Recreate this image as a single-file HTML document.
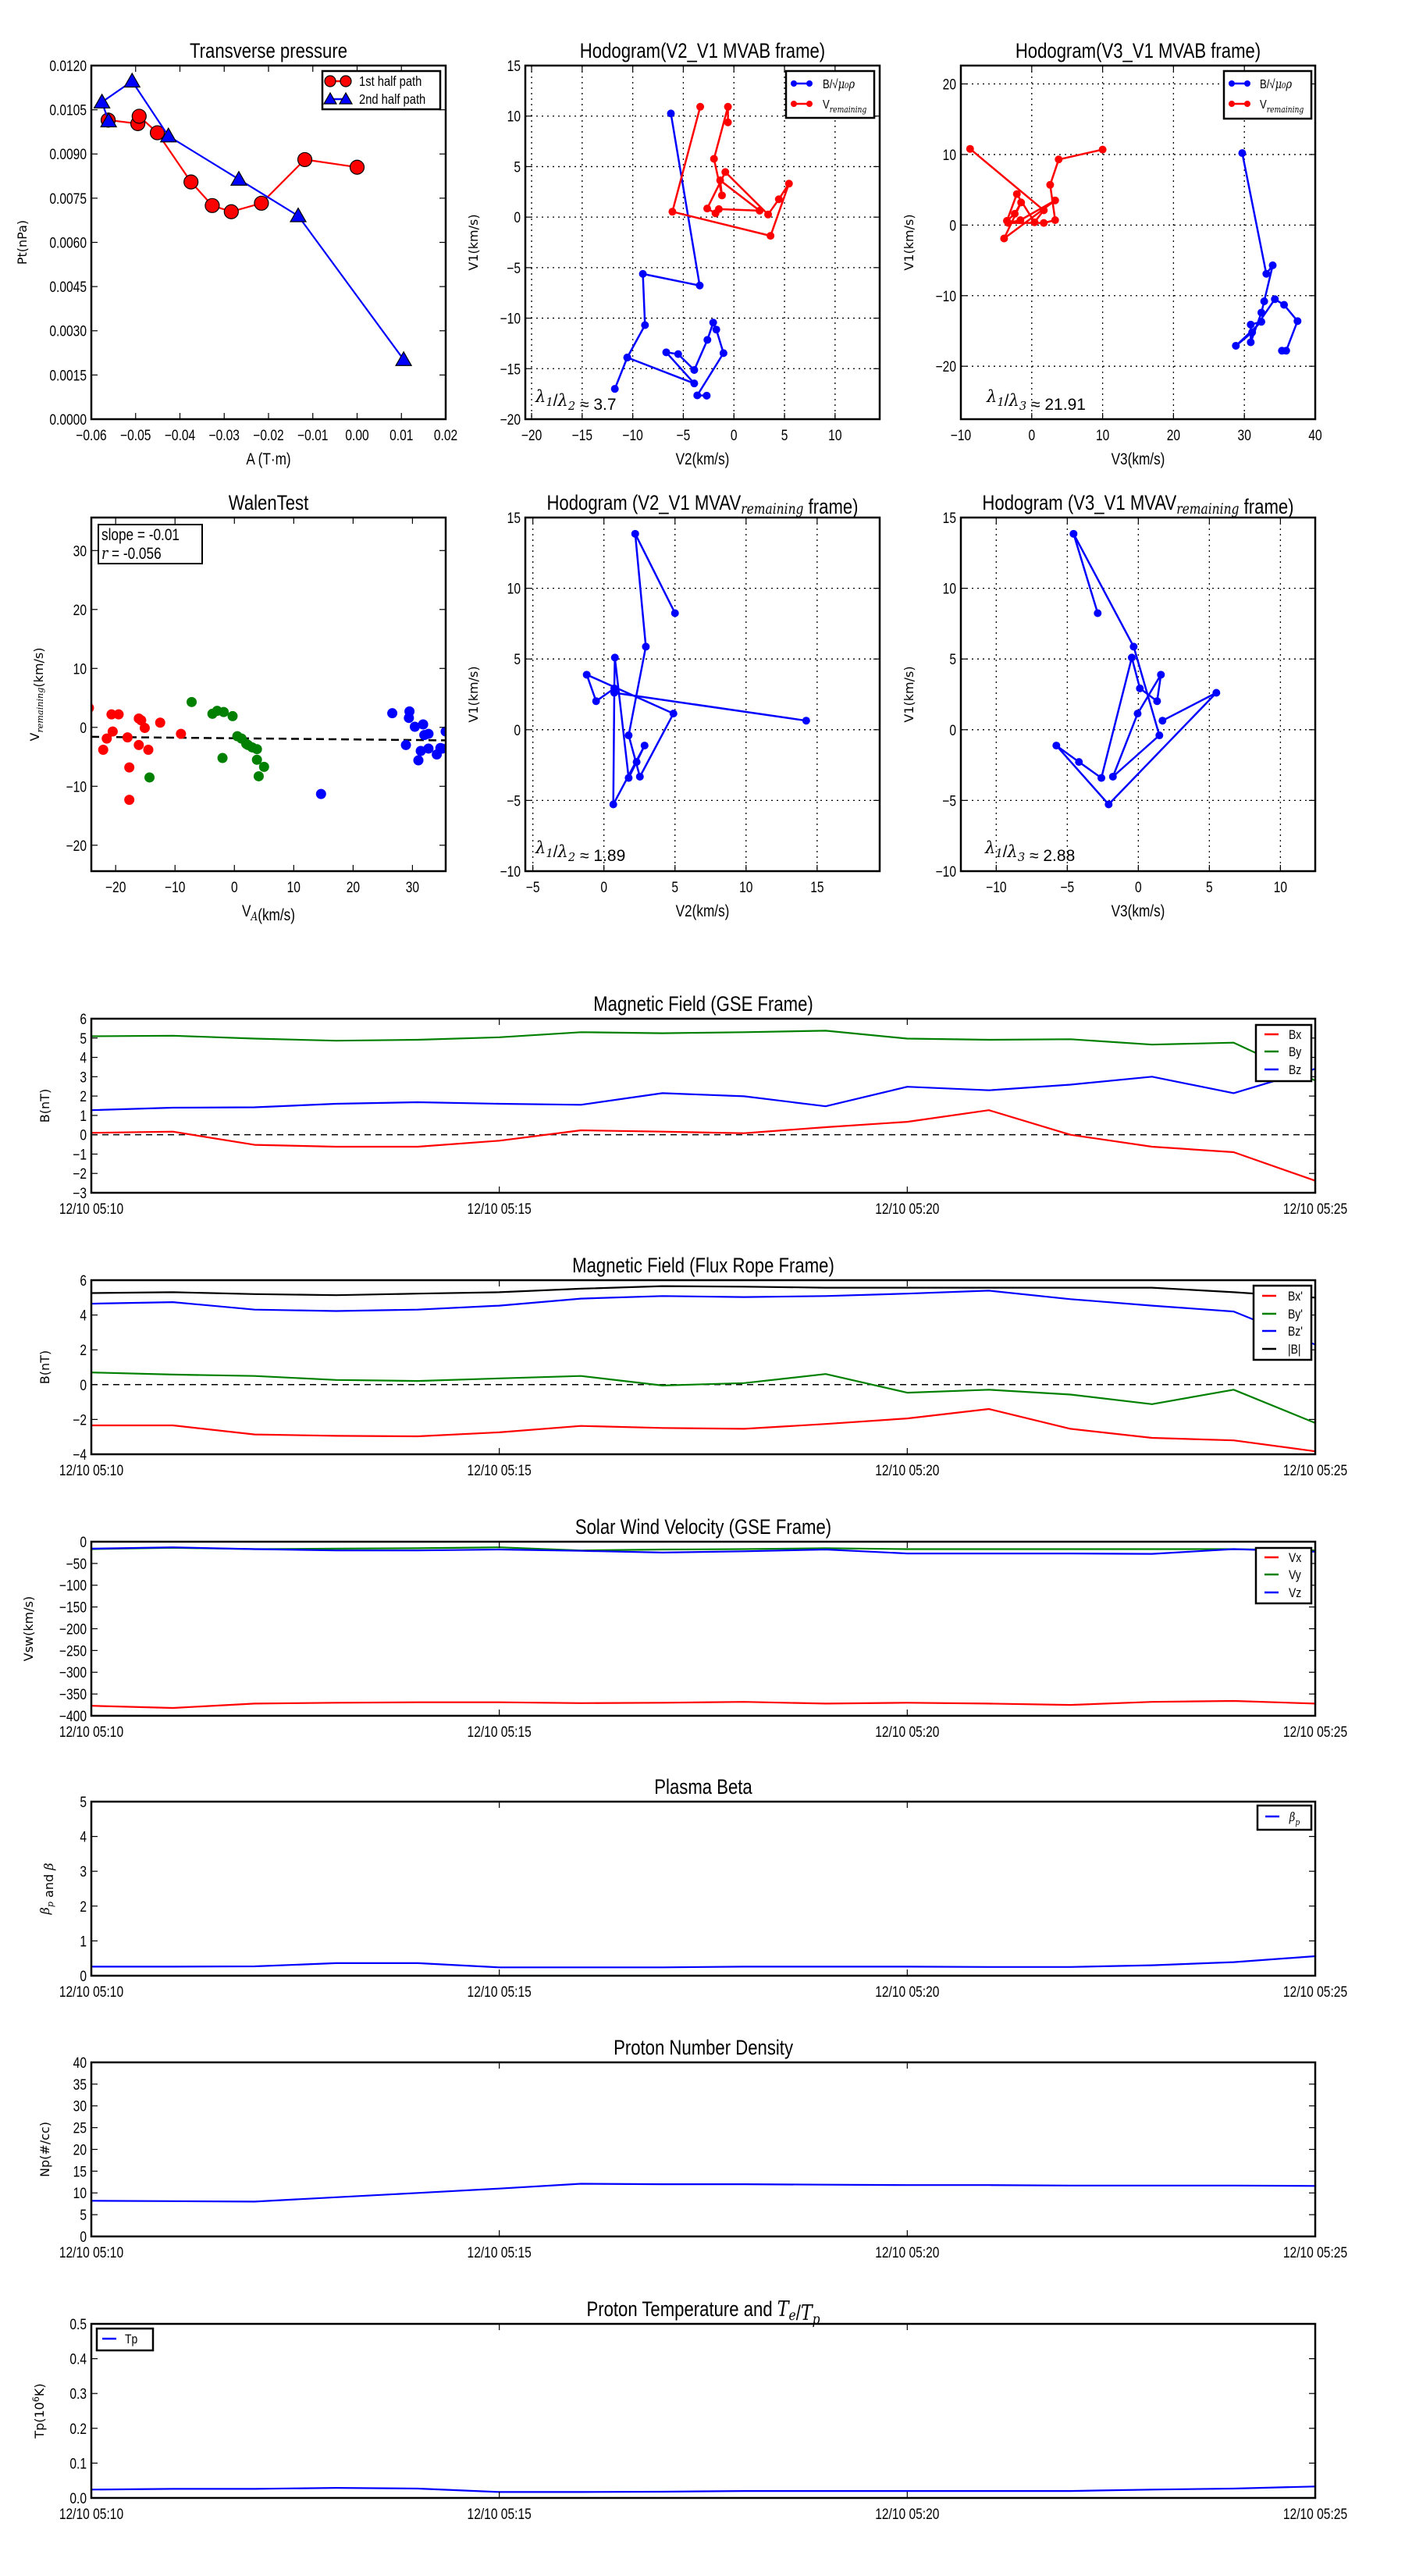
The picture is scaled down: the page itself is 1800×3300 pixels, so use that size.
<!DOCTYPE html>
<html><head><meta charset="utf-8"><title>Flux rope analysis</title>
<style>
html,body{margin:0;padding:0;background:#fff;}
svg{display:block;}
text{font-family:"Liberation Sans Narrow","Liberation Sans",sans-serif;}
.lab{font-family:"DejaVu Sans","Liberation Sans",sans-serif;}
.mth{font-family:"DejaVu Serif","Liberation Serif",serif;font-style:italic;}
.nc{transform-box:fill-box;transform-origin:center;transform:scaleX(0.82);}
.nr{transform-box:fill-box;transform-origin:right center;transform:scaleX(0.82);}
.nl{transform-box:fill-box;transform-origin:left center;transform:scaleX(0.82);}
</style></head>
<body>
<svg id="fig" xmlns="http://www.w3.org/2000/svg" width="1800" height="3300" viewBox="0 0 1800 3300">
<rect x="0" y="0" width="1800" height="3300" fill="#fff"/>
</svg>
<script>
// ---------- data ----------
const ptRedA=[-0.0562,-0.0495,-0.0492,-0.0451,-0.0375,-0.0327,-0.0284,-0.0216,-0.0118,0.0000];
const ptRedP=[0.01015,0.01003,0.01028,0.00972,0.00805,0.00725,0.00704,0.00733,0.00881,0.00855];
const ptBlueA=[-0.0561,-0.0576,-0.0508,-0.0426,-0.0267,-0.0133,0.0105];
const ptBlueP=[0.01012,0.01076,0.01147,0.00961,0.00814,0.00690,0.00202];

const b2V2=[-6.23,-3.38,-9.0,-8.79,-10.54,-11.77,-10.54,-3.92,-6.69,-5.51,-3.92,-2.62,-2.05,-1.74,-1.03,-3.62,-2.69];
const b2V1=[10.26,-6.77,-5.62,-10.69,-13.9,-17.0,-13.9,-16.46,-13.38,-13.56,-15.13,-12.15,-10.44,-11.13,-13.46,-17.64,-17.67];
const r2V2=[-3.33,-6.08,3.62,5.44,4.44,3.38,-0.85,-2.64,-1.82,-1.49,2.54,-1.36,-1.18,-1.97,-0.59,-0.59];
const r2V1=[10.92,0.54,-1.85,3.31,1.77,0.26,4.46,0.85,0.38,0.79,0.64,3.64,2.15,5.77,10.92,9.38];

const b3V3=[29.7,33.1,34.0,32.8,32.4,30.9,30.9,32.4,28.8,31.1,34.3,35.6,37.5,35.9,35.3];
const b3V1=[10.2,-6.9,-5.7,-10.8,-12.4,-16.6,-14.1,-13.7,-17.1,-15.2,-10.5,-11.3,-13.6,-17.8,-17.8];
const r3V3=[-8.7,1.7,0.4,-2.1,-3.5,-2.4,-1.5,-3.9,3.3,-1.6,-3.3,1.7,3.3,2.6,3.8,10.0];
const r3V1=[10.8,2.1,0.4,4.4,0.6,1.6,3.2,-1.9,3.5,0.7,0.3,0.3,0.7,5.7,9.3,10.7];

const walRedVA=[-24.5,-22.1,-21.5,-20.5,-20.7,-19.5,-18.0,-17.7,-17.7,-16.1,-15.7,-16.1,-15.1,-14.5,-12.5,-9.0];
const walRedVr=[3.3,-3.8,-1.9,-0.7,2.2,2.2,-1.7,-6.8,-12.3,1.5,1.2,-3.0,-0.1,-3.8,0.8,-1.1];
const walGreenVA=[-7.2,-3.7,-2.9,-1.8,-2.0,-0.3,0.5,1.2,2.0,2.3,3.0,3.8,3.8,4.1,5.0,-14.3];
const walGreenVr=[4.3,2.3,2.8,2.6,-5.2,1.9,-1.5,-1.9,-2.8,-3.0,-3.4,-3.7,-5.5,-8.3,-6.7,-8.5];
const walBlueVA=[14.6,26.6,29.5,29.4,28.9,30.4,31.0,31.4,31.8,32.0,32.7,32.7,34.1,34.7,35.6,35.0];
const walBlueVr=[-11.3,2.4,2.7,1.6,-3.0,0.1,-5.6,-4.0,0.5,-1.3,-1.1,-3.6,-4.6,-3.5,-0.7,-3.6];
const walSlope=-0.01, walIntercept=-1.85;

const mvavV1=[8.24,13.85,5.87,-0.40,-3.32,1.14,3.89,2.02,2.92,5.10,-3.41,-2.28,-1.12,-5.28,2.61,0.64];
const mvavV2=[5.0,2.2,2.95,1.74,2.53,4.89,-1.21,-0.55,0.73,0.77,1.74,2.3,2.86,0.66,0.73,14.23];
const mvavV3=[-2.86,-4.56,-0.33,1.48,-1.79,-0.05,1.59,1.32,0.11,-0.46,-2.60,-4.18,-5.77,-2.09,5.49,1.70];

const tMin=[0,1,2,3,4,5,6,7,8,9,10,11,12,13,14,15];
const timeTickVals=[0,5,10,15];
const timeTickLabels=["12/10 05:10","12/10 05:15","12/10 05:20","12/10 05:25"];
const gseBx=[0.10,0.16,-0.52,-0.62,-0.62,-0.31,0.23,0.16,0.08,0.39,0.67,1.27,0.0,-0.62,-0.9,-2.38];
const gseBy=[5.09,5.12,4.97,4.86,4.91,5.04,5.30,5.25,5.30,5.38,4.97,4.91,4.94,4.66,4.76,2.8];
const gseBz=[1.27,1.40,1.42,1.60,1.68,1.60,1.55,2.15,1.99,1.47,2.48,2.30,2.59,3.0,2.15,3.41];
const frBx=[-2.34,-2.34,-2.86,-2.94,-2.97,-2.74,-2.37,-2.49,-2.54,-2.26,-1.94,-1.40,-2.54,-3.06,-3.20,-3.83];
const frBy=[0.70,0.58,0.50,0.27,0.21,0.36,0.50,-0.05,0.09,0.61,-0.46,-0.29,-0.57,-1.12,-0.29,-2.2];
const frBz=[4.65,4.74,4.31,4.23,4.31,4.54,4.94,5.09,5.03,5.09,5.23,5.40,4.91,4.54,4.2,2.3];
const frBt=[5.26,5.31,5.2,5.14,5.23,5.31,5.51,5.66,5.63,5.57,5.57,5.57,5.57,5.57,5.31,5.0];
const vx=[-377,-382,-372,-370,-369,-369,-371,-370,-368,-372,-370,-372,-375,-368,-366,-372];
const vy=[-17,-14,-17,-16,-15,-13,-20,-18,-17,-15,-17,-17,-17,-17,-17,-20];
const vz=[-16,-13,-17,-20,-20,-18,-21,-25,-22,-18,-27,-27,-27,-28,-17,-23];
const betaP=[0.26,0.26,0.27,0.36,0.36,0.24,0.24,0.24,0.26,0.26,0.26,0.25,0.25,0.30,0.39,0.56];
const densNp=[8.2,8.1,8.0,9.0,10.0,11.0,12.1,12.0,12.0,11.9,11.8,11.8,11.7,11.7,11.7,11.6];
const tempTp=[0.024,0.026,0.026,0.029,0.027,0.017,0.017,0.018,0.020,0.020,0.020,0.020,0.020,0.024,0.027,0.033];

// ---------- helpers ----------
const NS='http://www.w3.org/2000/svg';
const fig=document.getElementById('fig');
function mk(tag,attrs,parent){const e=document.createElementNS(NS,tag);for(const k in attrs)e.setAttribute(k,attrs[k]);(parent||fig).appendChild(e);return e;}
function fmtMinus(s){return String(s).replace('-','\u2212');}
function range(a,b,s){const r=[];for(let v=a;v<=b+1e-9;v+=s)r.push(+v.toFixed(6));return r;}
let clipId=0;
function axes(o){
  const g=mk('g',{});
  
  
  const sx=v=>o.x+(v-o.xmin)/(o.xmax-o.xmin)*o.w;
  const sy=v=>o.y+o.h-(v-o.ymin)/(o.ymax-o.ymin)*o.h;
  const cid='clip'+(clipId++);
  const cp=mk('clipPath',{id:cid},g);mk('rect',{x:o.x,y:o.y,width:o.w,height:o.h},cp);
  if(o.grid){
    const gg=mk('g',{stroke:'#000','stroke-width':1.3,'stroke-dasharray':'2,5'},g);
    
    
    o.xticks.forEach(v=>{const X=sx(v);if(X>o.x+1&&X<o.x+o.w-1)mk('line',{x1:X,x2:X,y1:o.y,y2:o.y+o.h},gg);});
    o.yticks.forEach(v=>{const Y=sy(v);if(Y>o.y+1&&Y<o.y+o.h-1)mk('line',{y1:Y,y2:Y,x1:o.x,x2:o.x+o.w},gg);});
  }
  const data=mk('g',{'clip-path':'url(#'+cid+')'},g);
  
  
  const fr=mk('g',{},g);
  mk('rect',{x:o.x,y:o.y,width:o.w,height:o.h,fill:'none',stroke:'#000','stroke-width':2.5},fr);
  const tl=8;
  o.xticks.forEach((v,i)=>{const X=sx(v);
    mk('line',{x1:X,x2:X,y1:o.y+o.h,y2:o.y+o.h-tl,stroke:'#000','stroke-width':1.2},fr);
    mk('line',{x1:X,x2:X,y1:o.y,y2:o.y+tl,stroke:'#000','stroke-width':1.2},fr);
    const t=mk('text',{x:X,y:o.y+o.h+27,'text-anchor':'middle','font-size':o.xfs||19,'class':'nc'},fr);
    t.textContent=o.xlabels?o.xlabels[i]:fmtMinus(o.xfmt?o.xfmt(v):v);
    
    
  });
  o.yticks.forEach(v=>{const Y=sy(v);
    mk('line',{y1:Y,y2:Y,x1:o.x,x2:o.x+tl,stroke:'#000','stroke-width':1.2},fr);
    mk('line',{y1:Y,y2:Y,x1:o.x+o.w,x2:o.x+o.w-tl,stroke:'#000','stroke-width':1.2},fr);
    const t=mk('text',{x:o.x-6,y:Y+7,'text-anchor':'end','font-size':19,'class':'nr'},fr);
    t.textContent=fmtMinus(o.yfmt?o.yfmt(v):v);
    
    
  });
  const tt=mk('text',{x:o.x+o.w/2,y:o.y-10,'text-anchor':'middle','font-size':27,'class':'nc'},fr);
  tt.innerHTML=o.title;
  
  
  if(o.xlabel){const t=mk('text',{x:o.x+o.w/2,y:o.y+o.h+58,'text-anchor':'middle','font-size':21,'class':'nc'},fr);t.innerHTML=o.xlabel;
    
    }
  if(o.ylabel){const cy=o.y+o.h/2;const t=mk('text',{x:o.ylx,y:cy,'text-anchor':'middle','font-size':16,'class':'lab',transform:'rotate(-90 '+o.ylx+' '+cy+')'},fr);t.innerHTML=o.ylabel;
    
    }
  return {sx,sy,data,fr,o};
}
function polyline(ax,xs,ys,color,w,name){
  const pts=xs.map((v,i)=>ax.sx(v).toFixed(1)+','+ax.sy(ys[i]).toFixed(1)).join(' ');
  const p=mk('polyline',{points:pts,fill:'none',stroke:color,'stroke-width':w||2.2,'stroke-linejoin':'round'},ax.data);
  
  
  return p;
}
function dots(ax,xs,ys,color,r,name,stroke){
  const g=mk('g',{},ax.data);
  
  
  xs.forEach((v,i)=>{const c=mk('circle',{cx:ax.sx(v),cy:ax.sy(ys[i]),r:r,fill:color},g);
    if(stroke){c.setAttribute('stroke','#000');c.setAttribute('stroke-width',1.2);}
    
    });
}
function tris(ax,xs,ys,color,s,name){
  const g=mk('g',{},ax.data);
  
  
  xs.forEach((v,i)=>{const X=ax.sx(v),Y=ax.sy(ys[i]);
    const p=mk('polygon',{points:`${X},${Y-s} ${X-s},${Y+s*0.75} ${X+s},${Y+s*0.75}`,fill:color,stroke:'#000','stroke-width':1.2},g);
    
    });
}
function legend(x,y,w,h,entries,name){
  const g=mk('g',{});
  
  
  mk('rect',{x:x,y:y,width:w,height:h,fill:'#fff',stroke:'#000','stroke-width':2.5},g);
  entries.forEach(e=>{
    mk('line',{x1:e.lx1,x2:e.lx2,y1:e.y,y2:e.y,stroke:e.color,'stroke-width':2.5},g);
    if(e.marker==='o'){[e.lx1,e.lx2].forEach(X=>mk('circle',{cx:X,cy:e.y,r:e.r||5,fill:e.color,stroke:e.stroke?'#000':'none','stroke-width':1.2},g));}
    if(e.marker==='^'){[e.lx1,e.lx2].forEach(X=>{const s=e.r;mk('polygon',{points:`${X},${e.y-s} ${X-s},${e.y+s*0.75} ${X+s},${e.y+s*0.75}`,fill:e.color,stroke:'#000','stroke-width':1.2},g);});}
    const t=mk('text',{x:e.tx,y:e.y+6,'font-size':e.fs||17,'class':'nl'},g);t.innerHTML=e.text;
    
    
  });
}
function note(x,y,html,fs,name){const t=mk('text',{x:x,y:y,'font-size':fs||22},fig);t.innerHTML=html;
  
  return t;}
const M=(s)=>'<tspan class="mth">'+s+'</tspan>';
const SUB=(s)=>'<tspan class="mth" font-size="70%" dy="5">'+s+'</tspan><tspan dy="-5"></tspan>';

// ---------- Row 1 ----------
const a1=axes({name:'transverse-pressure-chart',x:117,y:84,w:454,h:453,xmin:-0.06,xmax:0.02,ymin:0,ymax:0.012,
  xticks:range(-0.06,0.02,0.01),yticks:range(0,0.012,0.0015),xfmt:v=>v.toFixed(2),yfmt:v=>v.toFixed(4),
  title:'Transverse pressure',xlabel:'A (T·m)',ylabel:'Pt(nPa)',ylx:34});
polyline(a1,ptRedA,ptRedP,'#ff0000',2.2,'first-half-path-line');
dots(a1,ptRedA,ptRedP,'#ff0000',9,'first-half-path-markers',true);
polyline(a1,ptBlueA,ptBlueP,'#0000ff',2.2,'second-half-path-line');
tris(a1,ptBlueA,ptBlueP,'#0000ff',10,'second-half-path-markers');
legend(413,91,151,49,[
  {lx1:423,lx2:443,y:104,color:'#ff0000',marker:'o',r:7,stroke:true,tx:460,text:'1st half path',fs:18},
  {lx1:423,lx2:443,y:127,color:'#0000ff',marker:'^',r:8,tx:460,text:'2nd half path',fs:18}],'pressure-legend');

const a2=axes({name:'hodogram-v2-v1-mvab',x:673,y:84,w:454,h:453,xmin:-20.62,xmax:14.41,ymin:-20,ymax:15,grid:true,
  xticks:range(-20,10,5),yticks:range(-20,15,5),title:'Hodogram(V2_V1 MVAB frame)',xlabel:'V2(km/s)',ylabel:'V1(km/s)',ylx:612});
polyline(a2,b2V2,b2V1,'#0000ff',2.5,'b-hodogram-line');
dots(a2,b2V2,b2V1,'#0000ff',5,'b-hodogram-markers');
polyline(a2,r2V2,r2V1,'#ff0000',2.5,'v-remaining-line');
dots(a2,r2V2,r2V1,'#ff0000',5,'v-remaining-markers');
legend(1007,91,113,60,[
  {lx1:1017,lx2:1037,y:107,color:'#0000ff',marker:'o',r:4,tx:1054,text:'B/√'+M('μ₀ρ'),fs:16},
  {lx1:1017,lx2:1037,y:133,color:'#ff0000',marker:'o',r:4,tx:1054,text:'V'+SUB('remaining'),fs:16}],'mvab-v2-legend');
note(686,515,M('λ')+SUB('1')+'/'+M('λ')+SUB('2')+' ≈ 3.7',21,'eigenvalue-ratio-label');

const a3=axes({name:'hodogram-v3-v1-mvab',x:1231,y:84,w:454,h:453,xmin:-10,xmax:40,ymin:-27.5,ymax:22.6,grid:true,
  xticks:range(-10,40,10),yticks:range(-20,20,10),title:'Hodogram(V3_V1 MVAB frame)',xlabel:'V3(km/s)',ylabel:'V1(km/s)',ylx:1170});
polyline(a3,b3V3,b3V1,'#0000ff',2.5,'b-hodogram-line');
dots(a3,b3V3,b3V1,'#0000ff',5,'b-hodogram-markers');
polyline(a3,r3V3,r3V1,'#ff0000',2.5,'v-remaining-line');
dots(a3,r3V3,r3V1,'#ff0000',5,'v-remaining-markers');
legend(1568,91,112,61,[
  {lx1:1578,lx2:1598,y:107,color:'#0000ff',marker:'o',r:4,tx:1614,text:'B/√'+M('μ₀ρ'),fs:16},
  {lx1:1578,lx2:1598,y:133,color:'#ff0000',marker:'o',r:4,tx:1614,text:'V'+SUB('remaining'),fs:16}],'mvab-v3-legend');
note(1264,515,M('λ')+SUB('1')+'/'+M('λ')+SUB('3')+' ≈ 21.91',21,'eigenvalue-ratio-label');

// ---------- Row 2 ----------
const a4=axes({name:'walen-test-chart',x:117,y:663,w:454,h:453,xmin:-24.1,xmax:35.6,ymin:-24.4,ymax:35.6,
  xticks:range(-20,30,10),yticks:range(-20,30,10),title:'WalenTest',xlabel:'V'+SUB('A')+'(km/s)',ylabel:'V'+SUB('remaining')+'(km/s)',ylx:50});
{const ln=mk('line',{x1:a4.sx(-24.1),y1:a4.sy(walSlope*-24.1+walIntercept),x2:a4.sx(35.6),y2:a4.sy(walSlope*35.6+walIntercept),stroke:'#000','stroke-width':2.5,'stroke-dasharray':'10,6'},a4.data);

}
dots(a4,walRedVA,walRedVr,'#ff0000',6.5,'walen-red-points');
dots(a4,walGreenVA,walGreenVr,'#008000',6.5,'walen-green-points');
dots(a4,walBlueVA,walBlueVr,'#0000ff',6.5,'walen-blue-points');
{const g=mk('g',{});


mk('rect',{x:126,y:672,width:133,height:50,fill:'#fff',stroke:'#000','stroke-width':2},g);
const t1=mk('text',{x:130,y:692,'font-size':21,'class':'nl'},g);t1.textContent='slope = -0.01';
const t2=mk('text',{x:130,y:716,'font-size':21,'class':'nl'},g);t2.innerHTML=M('r')+' = -0.056';}

const a5=axes({name:'hodogram-v2-v1-mvav',x:673,y:663,w:454,h:453,xmin:-5.53,xmax:19.4,ymin:-10,ymax:15,grid:true,
  xticks:range(-5,15,5),yticks:range(-10,15,5),title:'Hodogram (V2_V1 MVAV'+SUB('remaining')+' frame)',xlabel:'V2(km/s)',ylabel:'V1(km/s)',ylx:612});
polyline(a5,mvavV2,mvavV1,'#0000ff',2.5,'mvav-v2-line');
dots(a5,mvavV2,mvavV1,'#0000ff',5,'mvav-v2-markers');
note(686,1093,M('λ')+SUB('1')+'/'+M('λ')+SUB('2')+' ≈ 1.89',21,'eigenvalue-ratio-label');

const a6=axes({name:'hodogram-v3-v1-mvav',x:1231,y:663,w:454,h:453,xmin:-12.49,xmax:12.45,ymin:-10,ymax:15,grid:true,
  xticks:range(-10,10,5),yticks:range(-10,15,5),title:'Hodogram (V3_V1 MVAV'+SUB('remaining')+' frame)',xlabel:'V3(km/s)',ylabel:'V1(km/s)',ylx:1170});
polyline(a6,mvavV3,mvavV1,'#0000ff',2.5,'mvav-v3-line');
dots(a6,mvavV3,mvavV1,'#0000ff',5,'mvav-v3-markers');
note(1262,1093,M('λ')+SUB('1')+'/'+M('λ')+SUB('3')+' ≈ 2.88',21,'eigenvalue-ratio-label');

// ---------- Time series ----------
function ts(name,top,ymin,ymax,yticks,title,ylabel,ylx,yfmt){
  return axes({name:name,x:117,y:top,w:1568,h:223,xmin:0,xmax:15,ymin:ymin,ymax:ymax,xticks:timeTickVals,xlabels:timeTickLabels,
    yticks:yticks,yfmt:yfmt,title:title,ylabel:ylabel,ylx:ylx});
}
function zeroLine(ax){const l=mk('line',{x1:ax.sx(0),x2:ax.sx(15),y1:ax.sy(0),y2:ax.sy(0),stroke:'#000','stroke-width':1.5,'stroke-dasharray':'8,6'},ax.data);
  
  }

const t1=ts('magnetic-field-gse-chart',1305,-3,6,range(-3,6,1),'Magnetic Field (GSE Frame)','B(nT)',63);
zeroLine(t1);
polyline(t1,tMin,gseBx,'#ff0000',2.2,'bx-line');
polyline(t1,tMin,gseBy,'#008000',2.2,'by-line');
polyline(t1,tMin,gseBz,'#0000ff',2.2,'bz-line');
legend(1609,1313,71,72,[
  {lx1:1620,lx2:1638,y:1325,color:'#ff0000',tx:1651,text:'Bx',fs:17},
  {lx1:1620,lx2:1638,y:1347,color:'#008000',tx:1651,text:'By',fs:17},
  {lx1:1620,lx2:1638,y:1370,color:'#0000ff',tx:1651,text:'Bz',fs:17}],'gse-legend');

const t2=ts('magnetic-field-flux-rope-chart',1640,-4,6,range(-4,6,2),'Magnetic Field (Flux Rope Frame)','B(nT)',63);
zeroLine(t2);
polyline(t2,tMin,frBt,'#000000',2.2,'b-total-line');
polyline(t2,tMin,frBx,'#ff0000',2.2,'bx-prime-line');
polyline(t2,tMin,frBy,'#008000',2.2,'by-prime-line');
polyline(t2,tMin,frBz,'#0000ff',2.2,'bz-prime-line');
legend(1606,1647,74,95,[
  {lx1:1617,lx2:1635,y:1660,color:'#ff0000',tx:1650,text:"Bx'",fs:17},
  {lx1:1617,lx2:1635,y:1683,color:'#008000',tx:1650,text:"By'",fs:17},
  {lx1:1617,lx2:1635,y:1705,color:'#0000ff',tx:1650,text:"Bz'",fs:17},
  {lx1:1617,lx2:1635,y:1728,color:'#000000',tx:1650,text:'|B|',fs:17}],'flux-rope-legend');

const t3=ts('solar-wind-velocity-chart',1975,-400,0,range(-400,0,50),'Solar Wind Velocity (GSE Frame)','Vsw(km/s)',42);
polyline(t3,tMin,vx,'#ff0000',2.2,'vx-line');
polyline(t3,tMin,vy,'#008000',2.2,'vy-line');
polyline(t3,tMin,vz,'#0000ff',2.2,'vz-line');
legend(1609,1983,71,71,[
  {lx1:1620,lx2:1638,y:1995,color:'#ff0000',tx:1651,text:'Vx',fs:17},
  {lx1:1620,lx2:1638,y:2017,color:'#008000',tx:1651,text:'Vy',fs:17},
  {lx1:1620,lx2:1638,y:2040,color:'#0000ff',tx:1651,text:'Vz',fs:17}],'velocity-legend');

const t4=ts('plasma-beta-chart',2308,0,5,range(0,5,1),'Plasma Beta',M('β')+SUB('p')+' and '+M('β'),63);
polyline(t4,tMin,betaP,'#0000ff',2.2,'beta-p-line');
legend(1611,2313,69,31,[
  {lx1:1621,lx2:1639,y:2327,color:'#0000ff',tx:1652,text:M('β')+SUB('p'),fs:16}],'beta-legend');

const t5=ts('proton-density-chart',2642,0,40,range(0,40,5),'Proton Number Density','Np(#/cc)',63);
polyline(t5,tMin,densNp,'#0000ff',2.2,'np-line');

const t6=ts('proton-temperature-chart',2977,0,0.5,range(0,0.5,0.1),'Proton Temperature and '+M('T')+SUB('e')+'/'+M('T')+SUB('p'),'Tp(10<tspan font-size="70%" dy="-6">6</tspan><tspan dy="6">K)</tspan>',56,v=>v.toFixed(1));
polyline(t6,tMin,tempTp,'#0000ff',2.2,'tp-line');
legend(124,2983,72,28,[
  {lx1:131,lx2:149,y:2996,color:'#0000ff',tx:160,text:'Tp',fs:17}],'tp-legend');
</script>
</body></html>
